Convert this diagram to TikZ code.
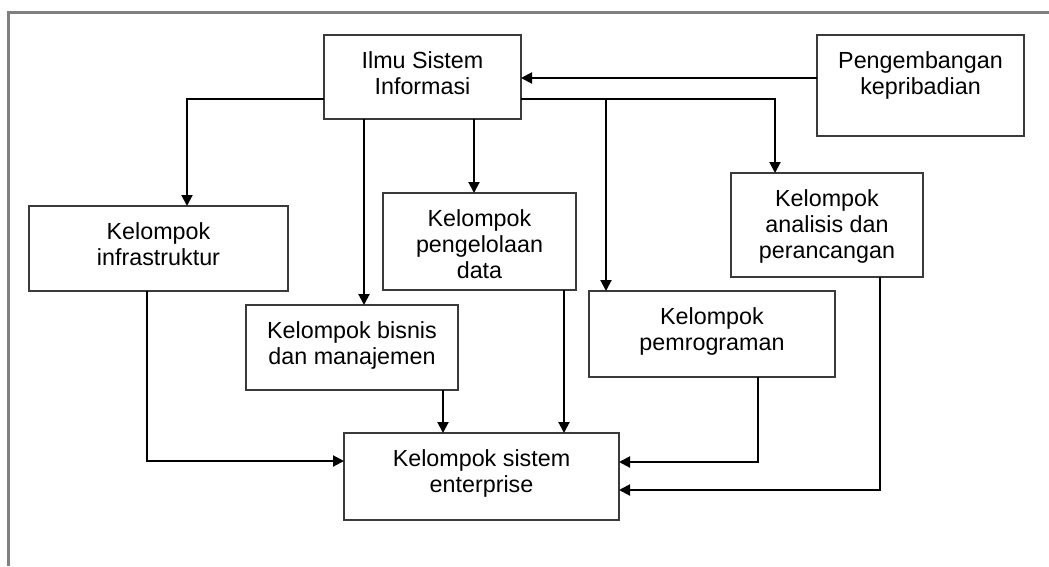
\documentclass[tikz,border=0pt]{standalone}
\usepackage{fontspec}
\setmainfont{Liberation Sans}
\usetikzlibrary{arrows.meta}
\definecolor{framegray}{HTML}{808080}
\definecolor{boxgray}{HTML}{3A3A3A}
\tikzset{
  box/.style={draw=boxgray, line width=2pt, rectangle, outer sep=0pt, inner sep=0pt},
  lbl/.style={anchor=north, yshift=-16pt, align=center, inner sep=0pt, text=black,
    font=\fontsize{23.3}{26}\selectfont},
  arr/.style={draw=black, line width=2pt, -{Triangle[length=11pt,width=11pt]}},
  frame/.style={draw=framegray, line width=3pt}
}
\begin{document}
\begin{tikzpicture}[x=1pt,y=-1pt]
\useasboundingbox (0,0) rectangle (1049,566);
\coordinate (ftl) at (8,12);
\coordinate (ftr) at (1049,12);
\coordinate (fbl) at (8,566);
\draw[frame] (ftr) -- (ftl) -- (fbl);

% boxes (center, width, height)
\node[box, minimum width=197pt, minimum height=84pt, label={[lbl]north:Ilmu Sistem\\Informasi}] (ilmu) at (422.5,77) {};
\node[box, minimum width=207pt, minimum height=101pt, label={[lbl]north:Pengembangan\\kepribadian}] (peng) at (920.5,85.5) {};
\node[box, minimum width=259pt, minimum height=85pt, label={[lbl]north:Kelompok\\infrastruktur}] (infra) at (158.5,248.5) {};
\node[box, minimum width=193pt, minimum height=97pt, label={[lbl]north:Kelompok\\pengelolaan\\data}] (kelola) at (479.5,241.5) {};
\node[box, minimum width=212pt, minimum height=85pt, label={[lbl]north:Kelompok bisnis\\dan manajemen}] (bisnis) at (352,347.5) {};
\node[box, minimum width=246pt, minimum height=86pt, label={[lbl]north:Kelompok\\pemrograman}] (prog) at (712,334) {};
\node[box, minimum width=192pt, minimum height=104pt, label={[lbl]north:Kelompok\\analisis dan\\perancangan}] (anal) at (827,225) {};
\node[box, minimum width=275pt, minimum height=87pt, label={[lbl]north:Kelompok sistem\\enterprise}] (ent) at (481.5,476.5) {};

% connectors
\draw[arr] (peng.west |- 0,78) -- (ilmu.east |- 0,78);
\draw[arr] (ilmu.west |- 0,99) -| (infra.north -| 187,0);
\draw[arr] (ilmu.east |- 0,99) -| (anal.north -| 775,0);
\draw[arr] (606,99) -- (prog.north -| 606,0);
\draw[arr] (ilmu.south -| 364,0) -- (bisnis.north -| 364,0);
\draw[arr] (ilmu.south -| 474,0) -- (kelola.north -| 474,0);
\draw[arr] (infra.south -| 147,0) |- (ent.west |- 0,461);
\draw[arr] (bisnis.south -| 443,0) -- (ent.north -| 443,0);
\draw[arr] (kelola.south -| 564,0) -- (ent.north -| 564,0);
\draw[arr] (prog.south -| 758,0) |- (ent.east |- 0,462);
\draw[arr] (anal.south -| 880,0) |- (ent.east |- 0,490);
\end{tikzpicture}
\end{document}
